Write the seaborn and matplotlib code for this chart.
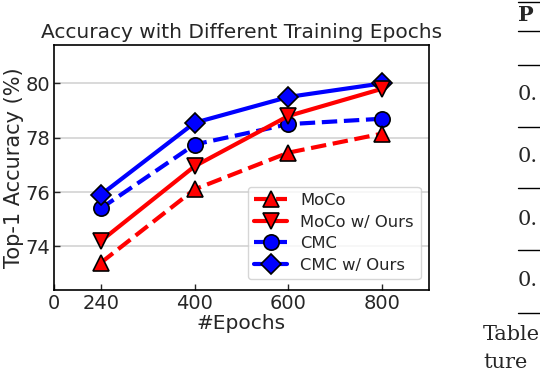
import matplotlib
matplotlib.use('Agg')
import matplotlib.pyplot as plt
import seaborn as sns

# values
epoch_labels = ['0', '240', '400', '600', '800']
epoch_pos = [0.5, 1, 2, 3, 4]
x_pos = [1, 2, 3, 4]
moco = [73.4, 76.1, 77.45, 78.15]
moco_ours = [74.2, 76.95, 78.8, 79.8]
cmc = [75.4, 77.75, 78.5, 78.7]
cmc_ours = [75.9, 78.55, 79.5, 80.0]
series_names = ['MoCo', 'MoCo w/ Ours', 'CMC', 'CMC w/ Ours']

sns.set_style('ticks')
plt.rcParams['font.family'] = ['DejaVu Sans']

fig = plt.figure(figsize=(5.4, 3.78), dpi=100)
ax = fig.add_axes([0.1, 0.233, 0.694, 0.647])

styles = [
    (moco, 'red', '^', '--', 11, 4),
    (moco_ours, 'red', 'v', '-', 11, 5),
    (cmc, 'blue', 'o', '--', 11, 2),
    (cmc_ours, 'blue', 'D', '-', 10, 3),
]
for name, (vals, col, mk, ls, ms, z) in zip(series_names, styles):
    sns.lineplot(x=x_pos, y=vals, ax=ax, color=col, marker=mk, linestyle=ls,
                 linewidth=3, markersize=ms, markeredgecolor='black',
                 markeredgewidth=1.2, label=name, zorder=z)

ax.set_xlim(0.5, 4.5)
ax.set_ylim(72.4, 81.4)
ax.set_xticks(epoch_pos)
ax.set_xticklabels(epoch_labels)
ax.set_yticks([74, 76, 78, 80])
ax.tick_params(direction='in', labelsize=14, length=4, width=1, pad=3)
ax.yaxis.grid(True, color='#d3d3d3', linewidth=1.2)
ax.set_axisbelow(True)
for sp in ax.spines.values():
    sp.set_color('black')
    sp.set_linewidth(1.2)

ax.set_title('Accuracy with Different Training Epochs', fontsize=14.5, pad=5)
ax.set_xlabel('#Epochs', fontsize=14.5, labelpad=1)
ax.set_ylabel('Top-1 Accuracy (%)', fontsize=15, labelpad=1)
ax.legend(loc='lower right', fontsize=11.8, handlelength=2.0,
          borderpad=0.4, labelspacing=0.4, framealpha=0.8,
          bbox_to_anchor=(1.0, 0.01))

# fragments of the neighbouring table that are cut off at the right
W, H = 540, 378
def fx(px):
    return px / W
def fy(py):
    return 1 - py / H

for yl in [2, 31, 65, 127, 188, 250, 313]:
    fig.add_artist(plt.Line2D([fx(518), fx(540)], [fy(yl), fy(yl)],
                              color='black', linewidth=1.0))
fig.text(fx(518), fy(15), 'P', fontsize=15, fontweight='bold',
         family='DejaVu Serif', va='center')
for yt in [95, 157, 219, 281]:
    fig.text(fx(518), fy(yt), '0.', fontsize=15, family='DejaVu Serif',
             va='center')
fig.text(fx(483), fy(334), 'Table', fontsize=15, family='DejaVu Serif',
         va='center')
fig.text(fx(483), fy(362), 'ture', fontsize=15, family='DejaVu Serif',
         va='center')

fig.savefig('out.png', dpi=100)
